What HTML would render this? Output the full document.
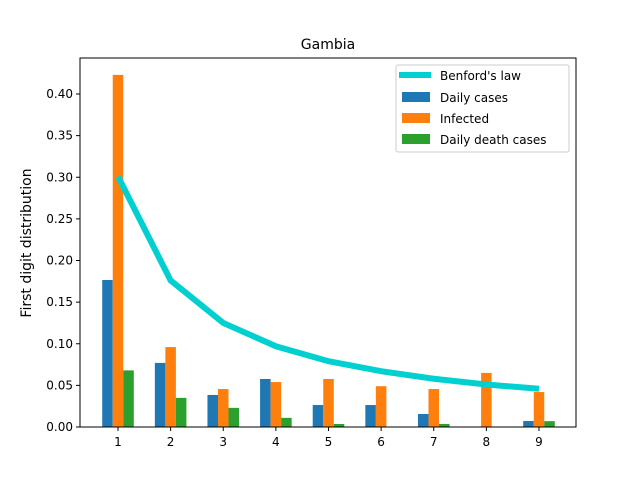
<!DOCTYPE html>
<html><head><meta charset="utf-8"><style>
body{margin:0;background:#fff;font-family:"Liberation Sans","DejaVu Sans",sans-serif;}
svg text{font-family:"DejaVu Sans","Liberation Sans",sans-serif;}
</style></head><body>
<svg id="chart" width="640" height="480" xmlns="http://www.w3.org/2000/svg">
<rect width="640" height="480" fill="#fff"/>
<text x="328" y="49" text-anchor="middle" font-size="14">Gambia</text>
<g id="plot"></g>
<rect x="80" y="58" width="496" height="369" fill="none" stroke="#000" stroke-width="1"/>
<text transform="translate(31,243) rotate(-90)" text-anchor="middle" font-size="14">First digit distribution</text>
<g>
<rect x="396" y="65" width="173" height="87" fill="#fff" stroke="#ccc" rx="2"/>
<line x1="399" y1="75" x2="431" y2="75" stroke="#00d0d0" stroke-width="6"/>
<text x="440" y="80" font-size="12">Benford's law</text>
<rect x="402" y="92" width="28" height="10" fill="#1f77b4"/>
<text x="440" y="102" font-size="12">Daily cases</text>
<rect x="402" y="113" width="28" height="10" fill="#ff7f0e"/>
<text x="440" y="123" font-size="12">Infected</text>
<rect x="402" y="134" width="28" height="10" fill="#2ca02c"/>
<text x="440" y="144" font-size="12">Daily death cases</text>
</g>
</svg>
<script>
const digits=[1,2,3,4,5,6,7,8,9];
const dailyCases=[0.1766,0.077,0.0385,0.0577,0.0264,0.0264,0.0156,0,0.0072];
const infected=[0.423,0.096,0.0456,0.054,0.0577,0.049,0.0456,0.065,0.042];
const deaths=[0.068,0.035,0.023,0.011,0.0036,0,0.0036,0,0.007];
const benford=[0.301,0.176,0.125,0.097,0.079,0.067,0.058,0.051,0.046];
const yTicks=[0,0.05,0.10,0.15,0.20,0.25,0.30,0.35,0.40];
const NS="http://www.w3.org/2000/svg";
const X=v=>118+(v-1)*52.625;
const Y=v=>427-v*832.5;
const g=document.getElementById('plot');
function mk(t,a){const e=document.createElementNS(NS,t);for(const k in a)e.setAttribute(k,a[k]);g.appendChild(e);return e;}
const series=[[dailyCases,-0.2,'#1f77b4','bar-daily-cases'],[infected,0,'#ff7f0e','bar-infected'],[deaths,0.2,'#2ca02c','bar-daily-death']];
series.forEach(([arr,off,col,nm])=>{arr.forEach((v,i)=>{
const x0=X(digits[i]+off-0.1),x1=X(digits[i]+off+0.1);
const r=mk('rect',{x:x0,y:Y(v),width:x1-x0,height:Y(0)-Y(v),fill:col});


});});
const pl=mk('polyline',{points:benford.map((v,i)=>X(digits[i])+','+Y(v)).join(' '),fill:'none',stroke:'#00d0d0','stroke-width':6});


digits.forEach(d=>{
const l=mk('line',{x1:X(d),x2:X(d),y1:427,y2:431,stroke:'#000'});


const t=mk('text',{x:X(d),y:446,'text-anchor':'middle','font-size':12});t.textContent=d;


});
yTicks.forEach(v=>{
const l=mk('line',{x1:76,x2:80,y1:Y(v),y2:Y(v),stroke:'#000'});


const t=mk('text',{x:73,y:Y(v)+4,'text-anchor':'end','font-size':12});t.textContent=v.toFixed(2);


});
</script>
</body></html>
